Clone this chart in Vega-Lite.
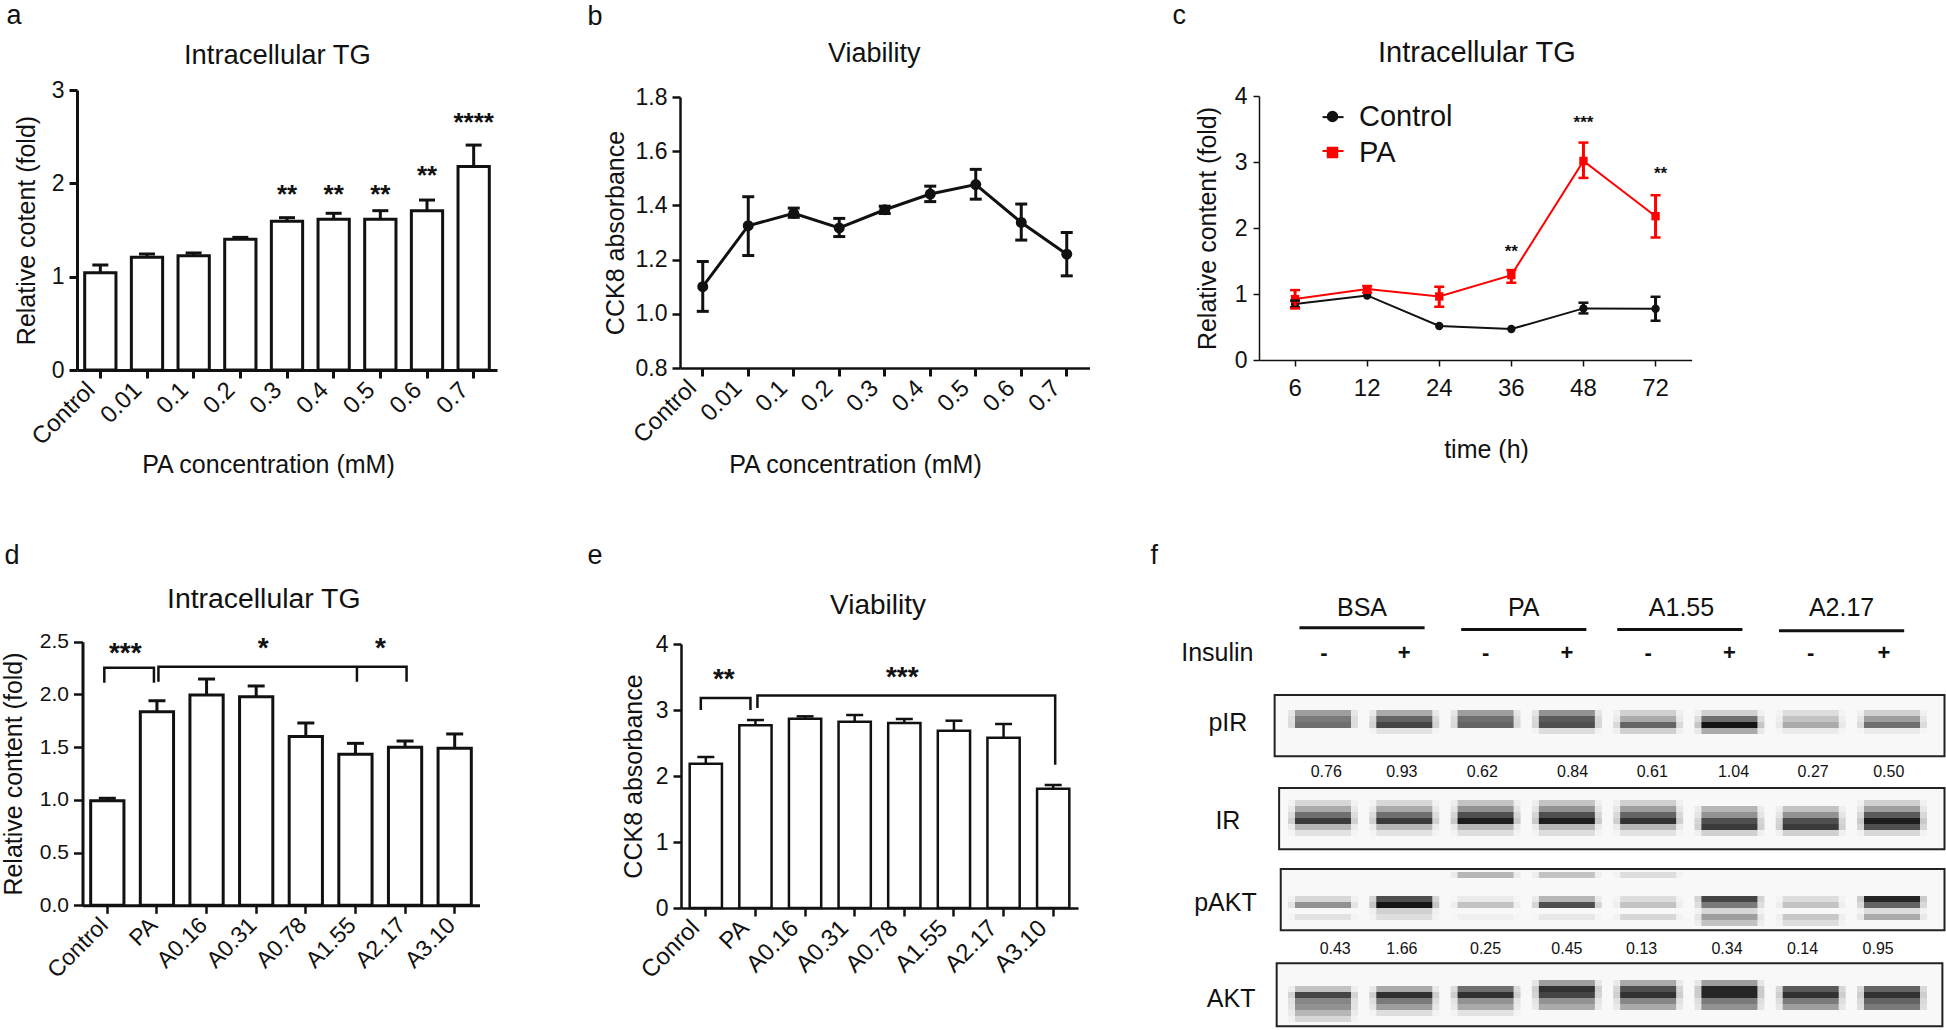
{
"$schema":"https://vega.github.io/schema/vega-lite/v6.json",
"padding":0,"background":"white","autosize":{"type":"pad"},
"columns":3,"spacing":0,"bounds":"flush","align":"each",
"resolve":{"scale":{"color":"independent","shape":"independent"},"legend":{"color":"independent","shape":"independent"}},
"config":{"font":"Liberation Sans","view":{"stroke":null},
"axis":{"grid":false,"domainColor":"#111","tickColor":"#111","labelColor":"#111","titleColor":"#111","labelOverlap":false,"labelFlush":false,"labelBound":false,"titleFontWeight":"normal","titleBaseline":"alphabetic"},
"title":{"fontWeight":"normal","color":"#111","baseline":"alphabetic","anchor":"start","frame":"group","offset":0,"fontSize":27},
"legend":{"labelColor":"#111"}},
"concat":[
{"width":580,"height":515,"title":{"text":"Intracellular TG","dx":184,"dy":73,"fontSize":27.4},
"data":{"values":[{"x":"Control","value":1.043,"hi":1.125},{"x":"0.01","value":1.207,"hi":1.243},{"x":"0.1","value":1.225,"hi":1.254},{"x":"0.2","value":1.4,"hi":1.421},{"x":"0.3","value":1.593,"hi":1.632},{"x":"0.4","value":1.614,"hi":1.679},{"x":"0.5","value":1.614,"hi":1.707},{"x":"0.6","value":1.707,"hi":1.821},{"x":"0.7","value":2.18,"hi":2.41}]},
"encoding":{"x":{"field":"x","type":"nominal","scale":{"domain":["Control","0.01","0.1","0.2","0.3","0.4","0.5","0.6","0.7"],"range":[77,497],"paddingInner":0.33,"paddingOuter":0.165},
"axis":{"title":"PA concentration (mM)","titleFontSize":25,"titleX":268,"titleY":102,"offset":-145,"labelAngle":-45,"labelAlign":"right","labelBaseline":"middle","labelFontSize":24,"labelPadding":8,"labelOffset":-9,"tickSize":8,"tickWidth":3,"domainWidth":3}}},
"layer":[
{"mark":{"type":"bar","fill":"white","stroke":"#111","strokeWidth":3},"encoding":{"y":{"field":"value","type":"quantitative","scale":{"domain":[0,3],"range":[370,90],"nice":false},"axis":{"title":"Relative cotent (fold)","titleFontSize":25,"titleX":-43,"offset":-77,"values":[0,1,2,3],"format":"d","labelFontSize":23,"labelPadding":5,"tickSize":8,"tickWidth":3,"domainWidth":3}}}},
{"mark":{"type":"rule","color":"#111","strokeWidth":3},"encoding":{"y":{"field":"value","type":"quantitative","axis":null},"y2":{"field":"hi"}}},
{"mark":{"type":"tick","orient":"horizontal","color":"#111","size":16,"thickness":3,"opacity":1},"encoding":{"y":{"field":"hi","type":"quantitative","axis":{"orient":"left","title":"a","titleFontSize":27,"titleAngle":0,"titleAlign":"left","titleX":6,"titleY":23,"labels":false,"ticks":false,"domain":false}}}},
{"data":{"values":[{"x":"0.3","value":1.89,"label":"**"},{"x":"0.4","value":1.89,"label":"**"},{"x":"0.5","value":1.89,"label":"**"},{"x":"0.6","value":2.09,"label":"**"},{"x":"0.7","value":2.66,"label":"****"}]},
"mark":{"type":"text","fontSize":26,"fontWeight":"bold","baseline":"alphabetic","dy":9,"color":"#111"},"encoding":{"y":{"field":"value","type":"quantitative","axis":null},"text":{"field":"label"}}}
],"resolve":{"axis":{"y":"independent"}}},

{"width":560,"height":515,"title":{"text":"Viability","dx":248,"dy":72},
"data":{"values":[{"k":1,"x":"Control","value":1.10,"hi":1.193,"lo":1.009},{"k":2,"x":"0.01","value":1.325,"hi":1.432,"lo":1.215},{"k":3,"x":"0.1","value":1.371,"hi":1.39,"lo":1.356},{"k":4,"x":"0.2","value":1.317,"hi":1.352,"lo":1.285},{"k":5,"x":"0.3","value":1.384,"hi":1.397,"lo":1.37},{"k":6,"x":"0.4","value":1.442,"hi":1.471,"lo":1.414},{"k":7,"x":"0.5","value":1.477,"hi":1.533,"lo":1.423},{"k":8,"x":"0.6","value":1.337,"hi":1.405,"lo":1.272},{"k":9,"x":"0.7","value":1.22,"hi":1.30,"lo":1.14}]},
"encoding":{"x":{"field":"x","type":"nominal","scale":{"domain":["Control","0.01","0.1","0.2","0.3","0.4","0.5","0.6","0.7"],"range":[100,509.5],"paddingInner":0.5,"paddingOuter":0.25},
"axis":{"title":"PA concentration (mM)","titleFontSize":25,"titleX":275,"titleY":104,"offset":-147,"labelAngle":-45,"labelAlign":"right","labelBaseline":"middle","labelFontSize":24,"labelPadding":8,"labelOffset":-10,"tickSize":8,"tickWidth":3,"domainWidth":2.5}}},
"layer":[
{"mark":{"type":"line","color":"#111","strokeWidth":3},"encoding":{"order":{"field":"k"},"y":{"field":"value","type":"quantitative","scale":{"domain":[0.8,1.8],"range":[368,97],"nice":false},"axis":{"title":"CCK8 absorbance","titleFontSize":25,"titleX":-57,"offset":-100,"values":[0.8,1.0,1.2,1.4,1.6,1.8],"format":".1f","labelFontSize":23,"labelPadding":5,"tickSize":8,"tickWidth":2.5,"domainWidth":2.5}}}},
{"mark":{"type":"rule","color":"#111","strokeWidth":3},"encoding":{"y":{"field":"lo","type":"quantitative","axis":null},"y2":{"field":"hi"}}},
{"mark":{"type":"tick","orient":"horizontal","color":"#111","size":12,"thickness":3,"opacity":1},"encoding":{"y":{"field":"hi","type":"quantitative","axis":{"orient":"left","title":"b","titleFontSize":27,"titleAngle":0,"titleAlign":"left","titleX":7,"titleY":24,"labels":false,"ticks":false,"domain":false}}}},
{"mark":{"type":"tick","orient":"horizontal","color":"#111","size":12,"thickness":3,"opacity":1},"encoding":{"y":{"field":"lo","type":"quantitative","axis":null}}},
{"mark":{"type":"point","filled":true,"color":"#111","size":120,"opacity":1},"encoding":{"y":{"field":"value","type":"quantitative","axis":null}}}
],"resolve":{"axis":{"y":"independent"}}},

{"width":806,"height":515,"title":{"text":"Intracellular TG","dx":238,"dy":72,"fontSize":29},
"encoding":{"x":{"field":"x","type":"ordinal","scale":{"domain":[6,12,24,36,48,72],"range":[119,551.6],"paddingInner":0.5,"paddingOuter":0.25},
"axis":{"title":"time (h)","titleFontSize":25,"titleX":346,"titleY":97,"offset":-155,"labelAngle":0,"labelFontSize":24,"labelPadding":10,"tickSize":6,"tickWidth":1.5,"domainWidth":1.5}}},
"layer":[
{"data":{"values":[{"x":6,"series":"Control","value":0.847},{"x":12,"series":"Control","value":0.978},{"x":24,"series":"Control","value":0.515},{"x":36,"series":"Control","value":0.469},{"x":48,"series":"Control","value":0.782},{"x":72,"series":"Control","value":0.777},{"x":6,"series":"PA","value":0.923},{"x":12,"series":"PA","value":1.074},{"x":24,"series":"PA","value":0.963},{"x":36,"series":"PA","value":1.286},{"x":48,"series":"PA","value":3.016},{"x":72,"series":"PA","value":2.179}]},
"mark":{"type":"line","strokeWidth":2,"point":{"filled":true,"size":70,"opacity":1}},
"encoding":{"y":{"field":"value","type":"quantitative","scale":{"domain":[0,4],"range":[360,96],"nice":false},"axis":{"title":"Relative content (fold)","titleFontSize":25,"titleX":-44,"offset":-119,"values":[0,1,2,3,4],"format":"d","labelFontSize":23,"labelPadding":6,"tickSize":6,"tickWidth":1.5,"domainWidth":1.5}},
"color":{"field":"series","type":"nominal","scale":{"domain":["Control","PA"],"range":["#111111","#ff0000"]},"legend":{"orient":"none","legendX":178,"legendY":102,"title":null,"labelFontSize":29,"symbolSize":90,"symbolStrokeWidth":2,"rowPadding":6,"labelOffset":12,"labelLimit":200}},
"shape":{"field":"series","type":"nominal","scale":{"domain":["Control","PA"],"range":["circle","square"]}}}},
{"data":{"values":[{"x":6,"series":"Control","value":3.68},{"x":6,"series":"PA","value":3.167}]},
"mark":{"type":"tick","orient":"horizontal","size":21,"thickness":2,"xOffset":38,"opacity":1},
"encoding":{"y":{"field":"value","type":"quantitative","axis":null},"color":{"field":"series","type":"nominal","legend":null}}},
{"data":{"values":[{"x":6,"series":"Control","lo":0.8,"hi":0.9},{"x":48,"series":"Control","lo":0.706,"hi":0.868},{"x":72,"series":"Control","lo":0.595,"hi":0.958},{"x":6,"series":"PA","lo":0.782,"hi":1.059},{"x":12,"series":"PA","lo":1.02,"hi":1.12},{"x":24,"series":"PA","lo":0.807,"hi":1.11},{"x":36,"series":"PA","lo":1.17,"hi":1.362},{"x":48,"series":"PA","lo":2.759,"hi":3.294},{"x":72,"series":"PA","lo":1.856,"hi":2.497}]},
"layer":[
{"mark":{"type":"rule","strokeWidth":3},"encoding":{"y":{"field":"lo","type":"quantitative","axis":null},"y2":{"field":"hi"},"color":{"field":"series","type":"nominal","legend":null}}},
{"mark":{"type":"tick","orient":"horizontal","size":10,"thickness":2.5,"opacity":1},"encoding":{"y":{"field":"hi","type":"quantitative","axis":{"orient":"left","title":"c","titleFontSize":27,"titleAngle":0,"titleAlign":"left","titleX":32,"titleY":23,"labels":false,"ticks":false,"domain":false}},"color":{"field":"series","type":"nominal","legend":null}}},
{"mark":{"type":"tick","orient":"horizontal","size":10,"thickness":2.5,"opacity":1},"encoding":{"y":{"field":"lo","type":"quantitative","axis":null},"color":{"field":"series","type":"nominal","legend":null}}}
],"resolve":{"axis":{"y":"independent"}}},
{"data":{"values":[{"x":36,"value":1.655,"label":"**"},{"x":48,"value":3.6,"label":"***"}]},
"mark":{"type":"text","fontSize":17,"fontWeight":"bold","baseline":"alphabetic","dy":6,"color":"#111"},"encoding":{"y":{"field":"value","type":"quantitative","axis":null},"text":{"field":"label"}}},
{"data":{"values":[{"x":72,"value":2.83,"label":"**"}]},
"mark":{"type":"text","fontSize":17,"fontWeight":"bold","baseline":"alphabetic","dy":6,"dx":5,"color":"#111"},"encoding":{"y":{"field":"value","type":"quantitative","axis":null},"text":{"field":"label"}}}
],"resolve":{"axis":{"y":"independent"}}},

{"width":580,"height":515,"title":{"text":"Intracellular TG","dx":167,"dy":103,"fontSize":28.4},
"data":{"values":[{"x":"Control","value":0.992,"hi":1.015},{"x":"PA","value":1.836,"hi":1.94},{"x":"A0.16","value":1.994,"hi":2.146},{"x":"A0.31","value":1.978,"hi":2.08},{"x":"A0.78","value":1.6,"hi":1.729},{"x":"A1.55","value":1.432,"hi":1.536},{"x":"A2.17","value":1.498,"hi":1.558},{"x":"A3.10","value":1.489,"hi":1.625}]},
"encoding":{"x":{"field":"x","type":"nominal","scale":{"domain":["Control","PA","A0.16","A0.31","A0.78","A1.55","A2.17","A3.10"],"range":[82.5,479.5],"paddingInner":0.33,"paddingOuter":0.165},
"axis":{"title":null,"offset":-124.7,"labelAngle":-45,"labelAlign":"right","labelBaseline":"middle","labelFontSize":23,"labelPadding":8,"labelOffset":-3,"tickSize":8,"tickWidth":2.5,"domainWidth":3}}},
"layer":[
{"mark":{"type":"bar","fill":"white","stroke":"#111","strokeWidth":3},"encoding":{"y":{"field":"value","type":"quantitative","scale":{"domain":[0,2.5],"range":[390.3,126.7],"nice":false},"axis":{"title":"Relative content (fold)","titleFontSize":25,"titleX":-61,"offset":-82.5,"values":[0,0.5,1,1.5,2,2.5],"format":".1f","labelFontSize":21,"labelPadding":5,"tickSize":9,"tickWidth":2.5,"domainWidth":3}}}},
{"mark":{"type":"rule","color":"#111","strokeWidth":3},"encoding":{"y":{"field":"value","type":"quantitative","axis":null},"y2":{"field":"hi"}}},
{"mark":{"type":"tick","orient":"horizontal","color":"#111","size":17,"thickness":3,"opacity":1},"encoding":{"y":{"field":"hi","type":"quantitative","axis":{"orient":"left","title":"d","titleFontSize":27,"titleAngle":0,"titleAlign":"left","titleX":4,"titleY":48,"labels":false,"ticks":false,"domain":false}}}},
{"data":{"values":[{"x":"Control","value":2.11,"seg":1,"k":1},{"x":"Control","value":2.253,"seg":1,"k":2},{"x":"PA","value":2.253,"seg":1,"k":3},{"x":"PA","value":2.11,"seg":1,"k":4}]},
"mark":{"type":"line","color":"#111","strokeWidth":2.5,"xOffset":-3},"encoding":{"y":{"field":"value","type":"quantitative","axis":null},"order":{"field":"k"},"detail":{"field":"seg"}}},
{"data":{"values":[{"x":"PA","value":2.12,"seg":2,"k":1},{"x":"PA","value":2.263,"seg":2,"k":2},{"x":"A2.17","value":2.263,"seg":2,"k":3},{"x":"A2.17","value":2.12,"seg":2,"k":4},{"x":"A1.55","value":2.263,"seg":3,"k":1},{"x":"A1.55","value":2.12,"seg":3,"k":2}]},
"mark":{"type":"line","color":"#111","strokeWidth":2.5,"xOffset":1.5},"encoding":{"y":{"field":"value","type":"quantitative","axis":null},"order":{"field":"k"},"detail":{"field":"seg"}}},
{"data":{"values":[{"x":"Control","value":2.405,"label":"***"}]},"mark":{"type":"text","fontSize":28,"fontWeight":"bold","baseline":"alphabetic","dy":10,"dx":18,"color":"#111"},"encoding":{"y":{"field":"value","type":"quantitative","axis":null},"text":{"field":"label"}}},
{"data":{"values":[{"x":"A0.31","value":2.446,"label":"*"}]},"mark":{"type":"text","fontSize":28,"fontWeight":"bold","baseline":"alphabetic","dy":10,"dx":7,"color":"#111"},"encoding":{"y":{"field":"value","type":"quantitative","axis":null},"text":{"field":"label"}}},
{"data":{"values":[{"x":"A1.55","value":2.45,"label":"*"}]},"mark":{"type":"text","fontSize":28,"fontWeight":"bold","baseline":"alphabetic","dy":10,"dx":25,"color":"#111"},"encoding":{"y":{"field":"value","type":"quantitative","axis":null},"text":{"field":"label"}}}
],"resolve":{"axis":{"y":"independent"}}},

{"width":560,"height":515,"title":{"text":"Viability","dx":250,"dy":109,"fontSize":28},
"data":{"values":[{"x":"Conrol","value":2.187,"hi":2.288},{"x":"PA","value":2.768,"hi":2.848},{"x":"A0.16","value":2.869,"hi":2.904},{"x":"A0.31","value":2.823,"hi":2.924},{"x":"A0.78","value":2.803,"hi":2.864},{"x":"A1.55","value":2.687,"hi":2.838},{"x":"A2.17","value":2.581,"hi":2.788},{"x":"A3.10","value":1.808,"hi":1.864}]},
"encoding":{"x":{"field":"x","type":"nominal","scale":{"domain":["Conrol","PA","A0.16","A0.31","A0.78","A1.55","A2.17","A3.10"],"range":[101,498],"paddingInner":0.35,"paddingOuter":0.175},
"axis":{"title":null,"offset":-122,"labelAngle":-45,"labelAlign":"right","labelBaseline":"middle","labelFontSize":24,"labelPadding":8,"labelOffset":-10,"tickSize":8,"tickWidth":2.5,"domainWidth":2.5}}},
"layer":[
{"mark":{"type":"bar","fill":"white","stroke":"#111","strokeWidth":2.5},"encoding":{"y":{"field":"value","type":"quantitative","scale":{"domain":[0,4],"range":[393,129],"nice":false},"axis":{"title":"CCK8 absorbance","titleFontSize":25,"titleX":-40,"offset":-101,"values":[0,1,2,3,4],"format":"d","labelFontSize":23,"labelPadding":5,"tickSize":8,"tickWidth":2.5,"domainWidth":2.5}}}},
{"mark":{"type":"rule","color":"#111","strokeWidth":2.5},"encoding":{"y":{"field":"value","type":"quantitative","axis":null},"y2":{"field":"hi"}}},
{"mark":{"type":"tick","orient":"horizontal","color":"#111","size":17,"thickness":2.5,"opacity":1},"encoding":{"y":{"field":"hi","type":"quantitative","axis":{"orient":"left","title":"e","titleFontSize":27,"titleAngle":0,"titleAlign":"left","titleX":7,"titleY":48,"labels":false,"ticks":false,"domain":false}}}},
{"data":{"values":[{"x":"Conrol","value":3.0,"seg":1,"k":1},{"x":"Conrol","value":3.18,"seg":1,"k":2},{"x":"PA","value":3.18,"seg":1,"k":3},{"x":"PA","value":3.0,"seg":1,"k":4}]},
"mark":{"type":"line","color":"#111","strokeWidth":2.5,"xOffset":-5},"encoding":{"y":{"field":"value","type":"quantitative","axis":null},"order":{"field":"k"},"detail":{"field":"seg"}}},
{"data":{"values":[{"x":"PA","value":3.03,"seg":2,"k":1},{"x":"PA","value":3.22,"seg":2,"k":2},{"x":"A3.10","value":3.22,"seg":2,"k":3},{"x":"A3.10","value":2.17,"seg":2,"k":4}]},
"mark":{"type":"line","color":"#111","strokeWidth":2.5,"xOffset":2},"encoding":{"y":{"field":"value","type":"quantitative","axis":null},"order":{"field":"k"},"detail":{"field":"seg"}}},
{"data":{"values":[{"x":"Conrol","value":3.49,"label":"**"}]},"mark":{"type":"text","fontSize":28,"fontWeight":"bold","baseline":"alphabetic","dy":10,"dx":18,"color":"#111"},"encoding":{"y":{"field":"value","type":"quantitative","axis":null},"text":{"field":"label"}}},
{"data":{"values":[{"x":"A0.78","value":3.52,"label":"***"}]},"mark":{"type":"text","fontSize":28,"fontWeight":"bold","baseline":"alphabetic","dy":10,"dx":-2,"color":"#111"},"encoding":{"y":{"field":"value","type":"quantitative","axis":null},"text":{"field":"label"}}}
],"resolve":{"axis":{"y":"independent"}}},

{"width":806,"height":515,
"layer":[
{"data":{"values":[{"gel":"pIR","lane0":0.405,"lane1":8.646,"top":0,"bottom":10.2},{"gel":"IR","lane0":0.46,"lane1":8.646,"top":15.5,"bottom":25.7},{"gel":"pAKT","lane0":0.48,"lane1":8.646,"top":29,"bottom":39.2},{"gel":"AKT","lane0":0.43,"lane1":8.62,"top":44.7,"bottom":55.2}]},
"mark":{"type":"rect","fill":"#f8f8f8","stroke":"#222","strokeWidth":2},
"encoding":{"x":{"field":"lane0","type":"quantitative","scale":{"domain":[1,8],"range":[183,752],"nice":false,"zero":false},"axis":null},"x2":{"field":"lane1"},
"y":{"field":"top","type":"quantitative","scale":{"domain":[-20,55],"range":[60,510],"nice":false,"zero":false},"axis":{"orient":"left","title":"f","titleFontSize":27,"titleAngle":0,"titleAlign":"left","titleX":10,"titleY":48,"labels":false,"ticks":false,"domain":false}},"y2":{"field":"bottom"}}},
{"data":{"name":"gelcells"},"mark":{"type":"rect","fill":"#000","width":70,"height":6.2},"encoding":{"x":{"field":"lane","type":"quantitative","axis":null},"y":{"field":"row","type":"quantitative","axis":null},"opacity":{"field":"v","type":"quantitative","scale":{"domain":[0,1],"range":[0,0.2]},"legend":null}}},
{"data":{"name":"gelcells"},"mark":{"type":"rect","fill":"#000","width":56,"height":6.2},"encoding":{"x":{"field":"lane","type":"quantitative","axis":null},"y":{"field":"row","type":"quantitative","axis":null},"opacity":{"field":"v","type":"quantitative","scale":{"domain":[0,1],"range":[0,0.9]},"legend":null}}},
{"data":{"values":[{"lane":0.71,"lane2":2.25,"row":-11.2},{"lane":2.7,"lane2":4.24,"row":-10.9},{"lane":4.62,"lane2":6.16,"row":-10.9},{"lane":6.61,"lane2":8.15,"row":-10.7}]},"mark":{"type":"rule","color":"#111","strokeWidth":3},"encoding":{"x":{"field":"lane","type":"quantitative","axis":null},"x2":{"field":"lane2"},"y":{"field":"row","type":"quantitative","axis":null}}},
{"data":{"values":[{"lane":1.48,"row":-14.5,"label":"BSA"},{"lane":3.47,"row":-14.5,"label":"PA"},{"lane":5.41,"row":-14.5,"label":"A1.55"},{"lane":7.38,"row":-14.5,"label":"A2.17"},{"lane":-0.3,"row":-7,"label":"Insulin"},{"lane":-0.17,"row":4.6,"label":"pIR"},{"lane":-0.17,"row":21,"label":"IR"},{"lane":-0.2,"row":34.7,"label":"pAKT"},{"lane":-0.13,"row":50.7,"label":"AKT"}]},"mark":{"type":"text","fontSize":25,"color":"#111"},"encoding":{"x":{"field":"lane","type":"quantitative","axis":null},"y":{"field":"row","type":"quantitative","axis":null},"text":{"field":"label"}}},
{"data":{"values":[{"lane":1.01,"row":-7,"label":"-"},{"lane":2.0,"row":-7,"label":"+"},{"lane":3.0,"row":-7,"label":"-"},{"lane":4.0,"row":-7,"label":"+"},{"lane":5.0,"row":-7,"label":"-"},{"lane":6.0,"row":-7,"label":"+"},{"lane":7.0,"row":-7,"label":"-"},{"lane":7.9,"row":-7,"label":"+"}]},"mark":{"type":"text","fontSize":22,"fontWeight":"bold","color":"#111"},"encoding":{"x":{"field":"lane","type":"quantitative","axis":null},"y":{"field":"row","type":"quantitative","axis":null},"text":{"field":"label"}}},
{"data":{"values":[{"lane":1.04,"row":12.8,"label":"0.76"},{"lane":1.97,"row":12.8,"label":"0.93"},{"lane":2.96,"row":12.8,"label":"0.62"},{"lane":4.07,"row":12.8,"label":"0.84"},{"lane":5.05,"row":12.8,"label":"0.61"},{"lane":6.05,"row":12.8,"label":"1.04"},{"lane":7.03,"row":12.8,"label":"0.27"},{"lane":7.96,"row":12.8,"label":"0.50"},{"lane":1.15,"row":42.3,"label":"0.43"},{"lane":1.97,"row":42.3,"label":"1.66"},{"lane":3.0,"row":42.3,"label":"0.25"},{"lane":4.0,"row":42.3,"label":"0.45"},{"lane":4.92,"row":42.3,"label":"0.13"},{"lane":5.97,"row":42.3,"label":"0.34"},{"lane":6.9,"row":42.3,"label":"0.14"},{"lane":7.83,"row":42.3,"label":"0.95"}]},"mark":{"type":"text","fontSize":16,"color":"#111"},"encoding":{"x":{"field":"lane","type":"quantitative","axis":null},"y":{"field":"row","type":"quantitative","axis":null},"text":{"field":"label"}}}
],"resolve":{"scale":{"opacity":"independent"},"axis":{"y":"independent"}}}
],
"datasets":{"gelcells":[
{"gel":"pIR","lane":1,"row":3,"v":0.35},{"gel":"pIR","lane":1,"row":4,"v":0.5},{"gel":"pIR","lane":1,"row":5,"v":0.55},
{"gel":"pIR","lane":2,"row":3,"v":0.3},{"gel":"pIR","lane":2,"row":4,"v":0.6},{"gel":"pIR","lane":2,"row":5,"v":0.75},{"gel":"pIR","lane":2,"row":6,"v":0.08},
{"gel":"pIR","lane":3,"row":3,"v":0.35},{"gel":"pIR","lane":3,"row":4,"v":0.55},{"gel":"pIR","lane":3,"row":5,"v":0.6},
{"gel":"pIR","lane":4,"row":3,"v":0.4},{"gel":"pIR","lane":4,"row":4,"v":0.65},{"gel":"pIR","lane":4,"row":5,"v":0.7},{"gel":"pIR","lane":4,"row":6,"v":0.1},
{"gel":"pIR","lane":5,"row":3,"v":0.15},{"gel":"pIR","lane":5,"row":4,"v":0.3},{"gel":"pIR","lane":5,"row":5,"v":0.6},{"gel":"pIR","lane":5,"row":6,"v":0.15},
{"gel":"pIR","lane":6,"row":3,"v":0.15},{"gel":"pIR","lane":6,"row":4,"v":0.55},{"gel":"pIR","lane":6,"row":5,"v":1},{"gel":"pIR","lane":6,"row":6,"v":0.3},
{"gel":"pIR","lane":7,"row":3,"v":0.1},{"gel":"pIR","lane":7,"row":4,"v":0.2},{"gel":"pIR","lane":7,"row":5,"v":0.3},{"gel":"pIR","lane":7,"row":6,"v":0.05},
{"gel":"pIR","lane":8,"row":3,"v":0.15},{"gel":"pIR","lane":8,"row":4,"v":0.35},{"gel":"pIR","lane":8,"row":5,"v":0.55},{"gel":"pIR","lane":8,"row":6,"v":0.05},
{"gel":"IR","lane":1,"row":18,"v":0.12},{"gel":"IR","lane":1,"row":19,"v":0.3},{"gel":"IR","lane":1,"row":20,"v":0.55},{"gel":"IR","lane":1,"row":21,"v":0.8},{"gel":"IR","lane":1,"row":22,"v":0.25},{"gel":"IR","lane":1,"row":23,"v":0.08},
{"gel":"IR","lane":2,"row":18,"v":0.12},{"gel":"IR","lane":2,"row":19,"v":0.3},{"gel":"IR","lane":2,"row":20,"v":0.55},{"gel":"IR","lane":2,"row":21,"v":0.8},{"gel":"IR","lane":2,"row":22,"v":0.25},{"gel":"IR","lane":2,"row":23,"v":0.08},
{"gel":"IR","lane":3,"row":18,"v":0.2},{"gel":"IR","lane":3,"row":19,"v":0.4},{"gel":"IR","lane":3,"row":20,"v":0.7},{"gel":"IR","lane":3,"row":21,"v":0.95},{"gel":"IR","lane":3,"row":22,"v":0.25},{"gel":"IR","lane":3,"row":23,"v":0.1},
{"gel":"IR","lane":4,"row":18,"v":0.2},{"gel":"IR","lane":4,"row":19,"v":0.4},{"gel":"IR","lane":4,"row":20,"v":0.7},{"gel":"IR","lane":4,"row":21,"v":0.95},{"gel":"IR","lane":4,"row":22,"v":0.25},{"gel":"IR","lane":4,"row":23,"v":0.1},
{"gel":"IR","lane":5,"row":18,"v":0.15},{"gel":"IR","lane":5,"row":19,"v":0.35},{"gel":"IR","lane":5,"row":20,"v":0.6},{"gel":"IR","lane":5,"row":21,"v":0.85},{"gel":"IR","lane":5,"row":22,"v":0.25},{"gel":"IR","lane":5,"row":23,"v":0.08},
{"gel":"IR","lane":6,"row":19,"v":0.25},{"gel":"IR","lane":6,"row":20,"v":0.4},{"gel":"IR","lane":6,"row":21,"v":0.7},{"gel":"IR","lane":6,"row":22,"v":0.8},{"gel":"IR","lane":6,"row":23,"v":0.15},
{"gel":"IR","lane":7,"row":19,"v":0.2},{"gel":"IR","lane":7,"row":20,"v":0.4},{"gel":"IR","lane":7,"row":21,"v":0.7},{"gel":"IR","lane":7,"row":22,"v":0.8},{"gel":"IR","lane":7,"row":23,"v":0.15},
{"gel":"IR","lane":8,"row":18,"v":0.15},{"gel":"IR","lane":8,"row":19,"v":0.35},{"gel":"IR","lane":8,"row":20,"v":0.65},{"gel":"IR","lane":8,"row":21,"v":0.95},{"gel":"IR","lane":8,"row":22,"v":0.7},{"gel":"IR","lane":8,"row":23,"v":0.12},
{"gel":"pAKT","lane":1,"row":34,"v":0.12},{"gel":"pAKT","lane":1,"row":35,"v":0.4},{"gel":"pAKT","lane":1,"row":37,"v":0.08},
{"gel":"pAKT","lane":2,"row":34,"v":0.7},{"gel":"pAKT","lane":2,"row":35,"v":1},{"gel":"pAKT","lane":2,"row":36,"v":0.15},{"gel":"pAKT","lane":2,"row":37,"v":0.1},
{"gel":"pAKT","lane":3,"row":30,"v":0.25},{"gel":"pAKT","lane":3,"row":34,"v":0.05},{"gel":"pAKT","lane":3,"row":35,"v":0.2},{"gel":"pAKT","lane":3,"row":37,"v":0.03},
{"gel":"pAKT","lane":4,"row":30,"v":0.2},{"gel":"pAKT","lane":4,"row":34,"v":0.25},{"gel":"pAKT","lane":4,"row":35,"v":0.7},{"gel":"pAKT","lane":4,"row":37,"v":0.06},
{"gel":"pAKT","lane":5,"row":30,"v":0.1},{"gel":"pAKT","lane":5,"row":34,"v":0.1},{"gel":"pAKT","lane":5,"row":35,"v":0.2},{"gel":"pAKT","lane":5,"row":37,"v":0.12},
{"gel":"pAKT","lane":6,"row":34,"v":0.75},{"gel":"pAKT","lane":6,"row":35,"v":0.5},{"gel":"pAKT","lane":6,"row":36,"v":0.12},{"gel":"pAKT","lane":6,"row":37,"v":0.35},{"gel":"pAKT","lane":6,"row":38,"v":0.2},
{"gel":"pAKT","lane":7,"row":34,"v":0.1},{"gel":"pAKT","lane":7,"row":35,"v":0.2},{"gel":"pAKT","lane":7,"row":37,"v":0.18},{"gel":"pAKT","lane":7,"row":38,"v":0.1},
{"gel":"pAKT","lane":8,"row":34,"v":0.9},{"gel":"pAKT","lane":8,"row":35,"v":0.6},{"gel":"pAKT","lane":8,"row":36,"v":0.1},{"gel":"pAKT","lane":8,"row":37,"v":0.3},
{"gel":"AKT","lane":1,"row":49,"v":0.2},{"gel":"AKT","lane":1,"row":50,"v":0.75},{"gel":"AKT","lane":1,"row":51,"v":0.45},{"gel":"AKT","lane":1,"row":52,"v":0.4},{"gel":"AKT","lane":1,"row":53,"v":0.25},{"gel":"AKT","lane":1,"row":54,"v":0.12},
{"gel":"AKT","lane":2,"row":49,"v":0.3},{"gel":"AKT","lane":2,"row":50,"v":0.85},{"gel":"AKT","lane":2,"row":51,"v":0.5},{"gel":"AKT","lane":2,"row":52,"v":0.35},{"gel":"AKT","lane":2,"row":53,"v":0.1},
{"gel":"AKT","lane":3,"row":49,"v":0.55},{"gel":"AKT","lane":3,"row":50,"v":0.85},{"gel":"AKT","lane":3,"row":51,"v":0.4},{"gel":"AKT","lane":3,"row":52,"v":0.3},{"gel":"AKT","lane":3,"row":53,"v":0.08},
{"gel":"AKT","lane":4,"row":48,"v":0.35},{"gel":"AKT","lane":4,"row":49,"v":0.85},{"gel":"AKT","lane":4,"row":50,"v":0.75},{"gel":"AKT","lane":4,"row":51,"v":0.4},{"gel":"AKT","lane":4,"row":52,"v":0.3},
{"gel":"AKT","lane":5,"row":48,"v":0.3},{"gel":"AKT","lane":5,"row":49,"v":0.7},{"gel":"AKT","lane":5,"row":50,"v":0.85},{"gel":"AKT","lane":5,"row":51,"v":0.45},{"gel":"AKT","lane":5,"row":52,"v":0.3},
{"gel":"AKT","lane":6,"row":48,"v":0.35},{"gel":"AKT","lane":6,"row":49,"v":0.9},{"gel":"AKT","lane":6,"row":50,"v":0.9},{"gel":"AKT","lane":6,"row":51,"v":0.5},{"gel":"AKT","lane":6,"row":52,"v":0.4},
{"gel":"AKT","lane":7,"row":49,"v":0.65},{"gel":"AKT","lane":7,"row":50,"v":0.85},{"gel":"AKT","lane":7,"row":51,"v":0.5},{"gel":"AKT","lane":7,"row":52,"v":0.35},
{"gel":"AKT","lane":8,"row":49,"v":0.6},{"gel":"AKT","lane":8,"row":50,"v":0.85},{"gel":"AKT","lane":8,"row":51,"v":0.6},{"gel":"AKT","lane":8,"row":52,"v":0.5}
]}
}
